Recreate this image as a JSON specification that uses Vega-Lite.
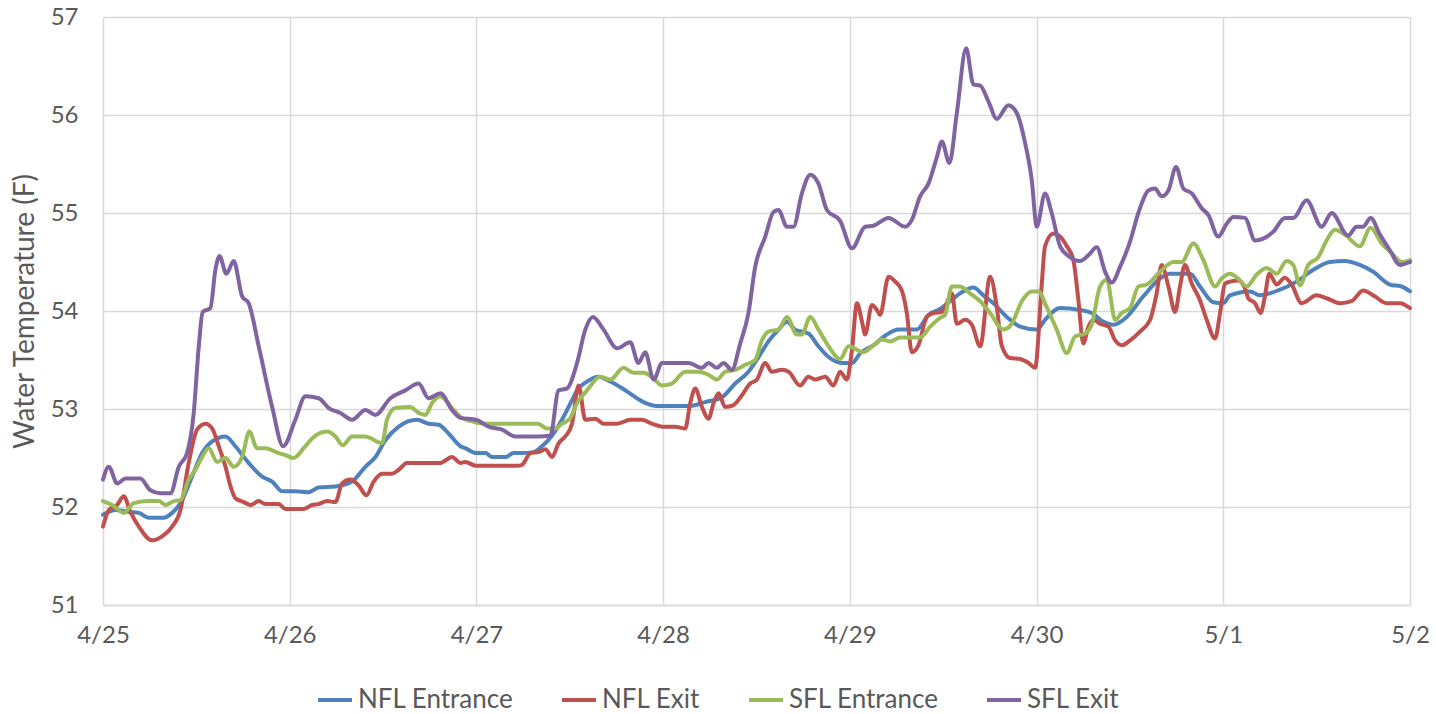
{
 "$schema": "https://vega.github.io/schema/vega-lite/v6.json",
 "width": 1307, "height": 588,
 "autosize": {"type": "none"},
 "padding": {"left": 103, "top": 17, "right": 26, "bottom": 109},
 "background": "white",
 "config": {"font": "Lato", "view": {"stroke": null}},
 "data": {"values": [
{"series":"NFL Entrance","day":0,"temp":51.92},{"series":"NFL Entrance","day":0.067,"temp":51.97},{"series":"NFL Entrance","day":0.138,"temp":51.95},{"series":"NFL Entrance","day":0.192,"temp":51.94},{"series":"NFL Entrance","day":0.245,"temp":51.89},{"series":"NFL Entrance","day":0.325,"temp":51.89},{"series":"NFL Entrance","day":0.37,"temp":51.94},{"series":"NFL Entrance","day":0.415,"temp":52.04},{"series":"NFL Entrance","day":0.477,"temp":52.31},{"series":"NFL Entrance","day":0.531,"temp":52.55},{"series":"NFL Entrance","day":0.585,"temp":52.67},{"series":"NFL Entrance","day":0.656,"temp":52.72},{"series":"NFL Entrance","day":0.709,"temp":52.62},{"series":"NFL Entrance","day":0.78,"temp":52.45},{"series":"NFL Entrance","day":0.852,"temp":52.31},{"series":"NFL Entrance","day":0.906,"temp":52.26},{"series":"NFL Entrance","day":0.96,"temp":52.16},{"series":"NFL Entrance","day":1.03,"temp":52.16},{"series":"NFL Entrance","day":1.1,"temp":52.15},{"series":"NFL Entrance","day":1.155,"temp":52.2},{"series":"NFL Entrance","day":1.245,"temp":52.21},{"series":"NFL Entrance","day":1.334,"temp":52.26},{"series":"NFL Entrance","day":1.405,"temp":52.41},{"series":"NFL Entrance","day":1.459,"temp":52.51},{"series":"NFL Entrance","day":1.512,"temp":52.68},{"series":"NFL Entrance","day":1.584,"temp":52.82},{"series":"NFL Entrance","day":1.682,"temp":52.89},{"series":"NFL Entrance","day":1.744,"temp":52.85},{"series":"NFL Entrance","day":1.798,"temp":52.84},{"series":"NFL Entrance","day":1.851,"temp":52.75},{"series":"NFL Entrance","day":1.914,"temp":52.62},{"series":"NFL Entrance","day":1.94,"temp":52.6},{"series":"NFL Entrance","day":1.998,"temp":52.55},{"series":"NFL Entrance","day":2.048,"temp":52.55},{"series":"NFL Entrance","day":2.083,"temp":52.51},{"series":"NFL Entrance","day":2.155,"temp":52.51},{"series":"NFL Entrance","day":2.199,"temp":52.55},{"series":"NFL Entrance","day":2.244,"temp":52.55},{"series":"NFL Entrance","day":2.306,"temp":52.56},{"series":"NFL Entrance","day":2.351,"temp":52.62},{"series":"NFL Entrance","day":2.405,"temp":52.73},{"series":"NFL Entrance","day":2.458,"temp":52.89},{"series":"NFL Entrance","day":2.512,"temp":53.09},{"series":"NFL Entrance","day":2.539,"temp":53.19},{"series":"NFL Entrance","day":2.592,"temp":53.28},{"series":"NFL Entrance","day":2.654,"temp":53.33},{"series":"NFL Entrance","day":2.717,"temp":53.28},{"series":"NFL Entrance","day":2.806,"temp":53.18},{"series":"NFL Entrance","day":2.895,"temp":53.07},{"series":"NFL Entrance","day":2.967,"temp":53.03},{"series":"NFL Entrance","day":3.038,"temp":53.03},{"series":"NFL Entrance","day":3.136,"temp":53.03},{"series":"NFL Entrance","day":3.225,"temp":53.07},{"series":"NFL Entrance","day":3.315,"temp":53.12},{"series":"NFL Entrance","day":3.386,"temp":53.26},{"series":"NFL Entrance","day":3.457,"temp":53.38},{"series":"NFL Entrance","day":3.511,"temp":53.53},{"series":"NFL Entrance","day":3.564,"temp":53.69},{"series":"NFL Entrance","day":3.618,"temp":53.81},{"series":"NFL Entrance","day":3.663,"temp":53.89},{"series":"NFL Entrance","day":3.707,"temp":53.81},{"series":"NFL Entrance","day":3.778,"temp":53.77},{"series":"NFL Entrance","day":3.832,"temp":53.64},{"series":"NFL Entrance","day":3.886,"temp":53.53},{"series":"NFL Entrance","day":3.957,"temp":53.47},{"series":"NFL Entrance","day":4.011,"temp":53.47},{"series":"NFL Entrance","day":4.056,"temp":53.57},{"series":"NFL Entrance","day":4.126,"temp":53.65},{"series":"NFL Entrance","day":4.198,"temp":53.76},{"series":"NFL Entrance","day":4.26,"temp":53.81},{"series":"NFL Entrance","day":4.358,"temp":53.81},{"series":"NFL Entrance","day":4.421,"temp":53.96},{"series":"NFL Entrance","day":4.483,"temp":54.02},{"series":"NFL Entrance","day":4.537,"temp":54.1},{"series":"NFL Entrance","day":4.59,"temp":54.18},{"series":"NFL Entrance","day":4.662,"temp":54.24},{"series":"NFL Entrance","day":4.715,"temp":54.16},{"series":"NFL Entrance","day":4.769,"temp":54.08},{"series":"NFL Entrance","day":4.84,"temp":53.94},{"series":"NFL Entrance","day":4.912,"temp":53.84},{"series":"NFL Entrance","day":5.001,"temp":53.81},{"series":"NFL Entrance","day":5.045,"temp":53.91},{"series":"NFL Entrance","day":5.126,"temp":54.03},{"series":"NFL Entrance","day":5.233,"temp":54.01},{"series":"NFL Entrance","day":5.296,"temp":53.98},{"series":"NFL Entrance","day":5.358,"temp":53.89},{"series":"NFL Entrance","day":5.411,"temp":53.86},{"series":"NFL Entrance","day":5.483,"temp":53.94},{"series":"NFL Entrance","day":5.572,"temp":54.15},{"series":"NFL Entrance","day":5.661,"temp":54.33},{"series":"NFL Entrance","day":5.715,"temp":54.38},{"series":"NFL Entrance","day":5.822,"temp":54.38},{"series":"NFL Entrance","day":5.875,"temp":54.25},{"series":"NFL Entrance","day":5.947,"temp":54.09},{"series":"NFL Entrance","day":6.0,"temp":54.08},{"series":"NFL Entrance","day":6.036,"temp":54.16},{"series":"NFL Entrance","day":6.143,"temp":54.2},{"series":"NFL Entrance","day":6.196,"temp":54.16},{"series":"NFL Entrance","day":6.294,"temp":54.21},{"series":"NFL Entrance","day":6.393,"temp":54.3},{"series":"NFL Entrance","day":6.482,"temp":54.42},{"series":"NFL Entrance","day":6.571,"temp":54.5},{"series":"NFL Entrance","day":6.651,"temp":54.51},{"series":"NFL Entrance","day":6.731,"temp":54.47},{"series":"NFL Entrance","day":6.803,"temp":54.4},{"series":"NFL Entrance","day":6.892,"temp":54.27},{"series":"NFL Entrance","day":6.955,"temp":54.25},{"series":"NFL Entrance","day":7.0,"temp":54.2},
{"series":"NFL Exit","day":0,"temp":51.8},{"series":"NFL Exit","day":0.031,"temp":51.97},{"series":"NFL Exit","day":0.075,"temp":52.02},{"series":"NFL Exit","day":0.111,"temp":52.11},{"series":"NFL Exit","day":0.147,"temp":51.95},{"series":"NFL Exit","day":0.192,"temp":51.8},{"series":"NFL Exit","day":0.263,"temp":51.66},{"series":"NFL Exit","day":0.317,"temp":51.7},{"series":"NFL Exit","day":0.37,"temp":51.8},{"series":"NFL Exit","day":0.415,"temp":51.97},{"series":"NFL Exit","day":0.459,"temp":52.45},{"series":"NFL Exit","day":0.504,"temp":52.79},{"series":"NFL Exit","day":0.549,"temp":52.85},{"series":"NFL Exit","day":0.585,"temp":52.8},{"series":"NFL Exit","day":0.62,"temp":52.62},{"series":"NFL Exit","day":0.656,"temp":52.41},{"series":"NFL Exit","day":0.683,"temp":52.21},{"series":"NFL Exit","day":0.709,"temp":52.09},{"series":"NFL Exit","day":0.754,"temp":52.05},{"series":"NFL Exit","day":0.79,"temp":52.02},{"series":"NFL Exit","day":0.834,"temp":52.06},{"series":"NFL Exit","day":0.87,"temp":52.03},{"series":"NFL Exit","day":0.941,"temp":52.03},{"series":"NFL Exit","day":0.977,"temp":51.98},{"series":"NFL Exit","day":1.075,"temp":51.98},{"series":"NFL Exit","day":1.12,"temp":52.02},{"series":"NFL Exit","day":1.155,"temp":52.03},{"series":"NFL Exit","day":1.2,"temp":52.06},{"series":"NFL Exit","day":1.245,"temp":52.05},{"series":"NFL Exit","day":1.28,"temp":52.24},{"series":"NFL Exit","day":1.325,"temp":52.28},{"series":"NFL Exit","day":1.369,"temp":52.22},{"series":"NFL Exit","day":1.411,"temp":52.12},{"series":"NFL Exit","day":1.45,"temp":52.26},{"series":"NFL Exit","day":1.495,"temp":52.34},{"series":"NFL Exit","day":1.548,"temp":52.34},{"series":"NFL Exit","day":1.584,"temp":52.38},{"series":"NFL Exit","day":1.628,"temp":52.45},{"series":"NFL Exit","day":1.727,"temp":52.45},{"series":"NFL Exit","day":1.807,"temp":52.45},{"series":"NFL Exit","day":1.869,"temp":52.51},{"series":"NFL Exit","day":1.914,"temp":52.45},{"series":"NFL Exit","day":1.94,"temp":52.46},{"series":"NFL Exit","day":1.998,"temp":52.42},{"series":"NFL Exit","day":2.101,"temp":52.42},{"series":"NFL Exit","day":2.217,"temp":52.42},{"series":"NFL Exit","day":2.244,"temp":52.43},{"series":"NFL Exit","day":2.289,"temp":52.55},{"series":"NFL Exit","day":2.333,"temp":52.56},{"series":"NFL Exit","day":2.369,"temp":52.59},{"series":"NFL Exit","day":2.405,"temp":52.51},{"series":"NFL Exit","day":2.44,"temp":52.65},{"series":"NFL Exit","day":2.476,"temp":52.72},{"series":"NFL Exit","day":2.512,"temp":52.85},{"series":"NFL Exit","day":2.547,"temp":53.24},{"series":"NFL Exit","day":2.583,"temp":52.89},{"series":"NFL Exit","day":2.637,"temp":52.9},{"series":"NFL Exit","day":2.681,"temp":52.85},{"series":"NFL Exit","day":2.753,"temp":52.85},{"series":"NFL Exit","day":2.824,"temp":52.89},{"series":"NFL Exit","day":2.886,"temp":52.89},{"series":"NFL Exit","day":2.94,"temp":52.85},{"series":"NFL Exit","day":2.994,"temp":52.82},{"series":"NFL Exit","day":3.065,"temp":52.82},{"series":"NFL Exit","day":3.118,"temp":52.8},{"series":"NFL Exit","day":3.145,"temp":53.06},{"series":"NFL Exit","day":3.172,"temp":53.21},{"series":"NFL Exit","day":3.208,"temp":53.02},{"series":"NFL Exit","day":3.243,"temp":52.9},{"series":"NFL Exit","day":3.27,"temp":53.06},{"series":"NFL Exit","day":3.297,"temp":53.16},{"series":"NFL Exit","day":3.332,"temp":53.02},{"series":"NFL Exit","day":3.377,"temp":53.04},{"series":"NFL Exit","day":3.422,"temp":53.14},{"series":"NFL Exit","day":3.466,"temp":53.26},{"series":"NFL Exit","day":3.502,"temp":53.3},{"series":"NFL Exit","day":3.547,"temp":53.47},{"series":"NFL Exit","day":3.582,"temp":53.38},{"series":"NFL Exit","day":3.636,"temp":53.4},{"series":"NFL Exit","day":3.672,"temp":53.38},{"series":"NFL Exit","day":3.734,"temp":53.24},{"series":"NFL Exit","day":3.778,"temp":53.33},{"series":"NFL Exit","day":3.814,"temp":53.3},{"series":"NFL Exit","day":3.868,"temp":53.33},{"series":"NFL Exit","day":3.912,"temp":53.24},{"series":"NFL Exit","day":3.948,"temp":53.38},{"series":"NFL Exit","day":3.984,"temp":53.3},{"series":"NFL Exit","day":4.011,"temp":53.6},{"series":"NFL Exit","day":4.038,"temp":54.08},{"series":"NFL Exit","day":4.065,"temp":53.89},{"series":"NFL Exit","day":4.082,"temp":53.76},{"series":"NFL Exit","day":4.118,"temp":54.06},{"series":"NFL Exit","day":4.145,"temp":54.01},{"series":"NFL Exit","day":4.162,"temp":53.96},{"series":"NFL Exit","day":4.207,"temp":54.35},{"series":"NFL Exit","day":4.243,"temp":54.3},{"series":"NFL Exit","day":4.278,"temp":54.21},{"series":"NFL Exit","day":4.305,"temp":53.98},{"series":"NFL Exit","day":4.332,"temp":53.58},{"series":"NFL Exit","day":4.367,"temp":53.65},{"series":"NFL Exit","day":4.412,"temp":53.94},{"series":"NFL Exit","day":4.448,"temp":53.98},{"series":"NFL Exit","day":4.493,"temp":53.99},{"series":"NFL Exit","day":4.519,"temp":54.08},{"series":"NFL Exit","day":4.546,"temp":54.18},{"series":"NFL Exit","day":4.573,"temp":53.87},{"series":"NFL Exit","day":4.617,"temp":53.91},{"series":"NFL Exit","day":4.653,"temp":53.86},{"series":"NFL Exit","day":4.698,"temp":53.64},{"series":"NFL Exit","day":4.751,"temp":54.35},{"series":"NFL Exit","day":4.787,"temp":54.04},{"series":"NFL Exit","day":4.813,"temp":53.65},{"series":"NFL Exit","day":4.858,"temp":53.52},{"series":"NFL Exit","day":4.912,"temp":53.51},{"series":"NFL Exit","day":4.957,"temp":53.47},{"series":"NFL Exit","day":4.992,"temp":53.42},{"series":"NFL Exit","day":5.028,"temp":54.28},{"series":"NFL Exit","day":5.045,"temp":54.66},{"series":"NFL Exit","day":5.09,"temp":54.79},{"series":"NFL Exit","day":5.126,"temp":54.76},{"series":"NFL Exit","day":5.162,"temp":54.66},{"series":"NFL Exit","day":5.197,"temp":54.52},{"series":"NFL Exit","day":5.224,"temp":54.11},{"series":"NFL Exit","day":5.25,"temp":53.67},{"series":"NFL Exit","day":5.278,"temp":53.84},{"series":"NFL Exit","day":5.304,"temp":53.91},{"series":"NFL Exit","day":5.34,"temp":53.87},{"series":"NFL Exit","day":5.385,"temp":53.84},{"series":"NFL Exit","day":5.421,"temp":53.7},{"series":"NFL Exit","day":5.456,"temp":53.65},{"series":"NFL Exit","day":5.501,"temp":53.7},{"series":"NFL Exit","day":5.554,"temp":53.79},{"series":"NFL Exit","day":5.608,"temp":53.91},{"series":"NFL Exit","day":5.643,"temp":54.18},{"series":"NFL Exit","day":5.67,"temp":54.47},{"series":"NFL Exit","day":5.706,"temp":54.25},{"series":"NFL Exit","day":5.742,"temp":53.99},{"series":"NFL Exit","day":5.768,"temp":54.25},{"series":"NFL Exit","day":5.795,"temp":54.47},{"series":"NFL Exit","day":5.831,"temp":54.28},{"series":"NFL Exit","day":5.875,"temp":54.11},{"series":"NFL Exit","day":5.911,"temp":53.91},{"series":"NFL Exit","day":5.956,"temp":53.72},{"series":"NFL Exit","day":5.982,"temp":53.97},{"series":"NFL Exit","day":6.009,"temp":54.28},{"series":"NFL Exit","day":6.036,"temp":54.3},{"series":"NFL Exit","day":6.08,"temp":54.31},{"series":"NFL Exit","day":6.116,"temp":54.23},{"series":"NFL Exit","day":6.134,"temp":54.13},{"series":"NFL Exit","day":6.17,"temp":54.08},{"series":"NFL Exit","day":6.2,"temp":53.98},{"series":"NFL Exit","day":6.223,"temp":54.15},{"series":"NFL Exit","day":6.246,"temp":54.38},{"series":"NFL Exit","day":6.286,"temp":54.27},{"series":"NFL Exit","day":6.33,"temp":54.34},{"series":"NFL Exit","day":6.366,"temp":54.27},{"series":"NFL Exit","day":6.42,"temp":54.08},{"series":"NFL Exit","day":6.5,"temp":54.16},{"series":"NFL Exit","day":6.553,"temp":54.13},{"series":"NFL Exit","day":6.625,"temp":54.08},{"series":"NFL Exit","day":6.687,"temp":54.1},{"series":"NFL Exit","day":6.749,"temp":54.21},{"series":"NFL Exit","day":6.811,"temp":54.15},{"series":"NFL Exit","day":6.874,"temp":54.08},{"series":"NFL Exit","day":6.946,"temp":54.08},{"series":"NFL Exit","day":7.0,"temp":54.03},
{"series":"SFL Entrance","day":0,"temp":52.06},{"series":"SFL Entrance","day":0.049,"temp":52.02},{"series":"SFL Entrance","day":0.111,"temp":51.94},{"series":"SFL Entrance","day":0.165,"temp":52.04},{"series":"SFL Entrance","day":0.245,"temp":52.06},{"series":"SFL Entrance","day":0.299,"temp":52.06},{"series":"SFL Entrance","day":0.335,"temp":52.02},{"series":"SFL Entrance","day":0.379,"temp":52.06},{"series":"SFL Entrance","day":0.415,"temp":52.07},{"series":"SFL Entrance","day":0.459,"temp":52.28},{"series":"SFL Entrance","day":0.495,"temp":52.38},{"series":"SFL Entrance","day":0.531,"temp":52.51},{"series":"SFL Entrance","day":0.566,"temp":52.6},{"series":"SFL Entrance","day":0.611,"temp":52.46},{"series":"SFL Entrance","day":0.656,"temp":52.5},{"series":"SFL Entrance","day":0.7,"temp":52.41},{"series":"SFL Entrance","day":0.745,"temp":52.51},{"series":"SFL Entrance","day":0.784,"temp":52.77},{"series":"SFL Entrance","day":0.825,"temp":52.6},{"series":"SFL Entrance","day":0.87,"temp":52.6},{"series":"SFL Entrance","day":0.941,"temp":52.55},{"series":"SFL Entrance","day":0.977,"temp":52.53},{"series":"SFL Entrance","day":1.021,"temp":52.5},{"series":"SFL Entrance","day":1.075,"temp":52.6},{"series":"SFL Entrance","day":1.12,"temp":52.7},{"series":"SFL Entrance","day":1.2,"temp":52.77},{"series":"SFL Entrance","day":1.245,"temp":52.72},{"series":"SFL Entrance","day":1.284,"temp":52.63},{"series":"SFL Entrance","day":1.334,"temp":52.72},{"series":"SFL Entrance","day":1.405,"temp":52.72},{"series":"SFL Entrance","day":1.495,"temp":52.65},{"series":"SFL Entrance","day":1.521,"temp":52.89},{"series":"SFL Entrance","day":1.566,"temp":53.01},{"series":"SFL Entrance","day":1.646,"temp":53.02},{"series":"SFL Entrance","day":1.69,"temp":52.96},{"series":"SFL Entrance","day":1.727,"temp":52.94},{"series":"SFL Entrance","day":1.762,"temp":53.06},{"series":"SFL Entrance","day":1.807,"temp":53.13},{"series":"SFL Entrance","day":1.869,"temp":53.01},{"series":"SFL Entrance","day":1.914,"temp":52.92},{"series":"SFL Entrance","day":1.985,"temp":52.87},{"series":"SFL Entrance","day":2.048,"temp":52.85},{"series":"SFL Entrance","day":2.33,"temp":52.85},{"series":"SFL Entrance","day":2.378,"temp":52.8},{"series":"SFL Entrance","day":2.42,"temp":52.8},{"series":"SFL Entrance","day":2.458,"temp":52.85},{"series":"SFL Entrance","day":2.5,"temp":52.9},{"series":"SFL Entrance","day":2.539,"temp":53.06},{"series":"SFL Entrance","day":2.592,"temp":53.19},{"series":"SFL Entrance","day":2.663,"temp":53.33},{"series":"SFL Entrance","day":2.717,"temp":53.3},{"series":"SFL Entrance","day":2.788,"temp":53.42},{"series":"SFL Entrance","day":2.842,"temp":53.37},{"series":"SFL Entrance","day":2.895,"temp":53.37},{"series":"SFL Entrance","day":2.949,"temp":53.31},{"series":"SFL Entrance","day":2.994,"temp":53.24},{"series":"SFL Entrance","day":3.047,"temp":53.26},{"series":"SFL Entrance","day":3.118,"temp":53.38},{"series":"SFL Entrance","day":3.19,"temp":53.38},{"series":"SFL Entrance","day":3.243,"temp":53.35},{"series":"SFL Entrance","day":3.288,"temp":53.3},{"series":"SFL Entrance","day":3.332,"temp":53.38},{"series":"SFL Entrance","day":3.386,"temp":53.4},{"series":"SFL Entrance","day":3.439,"temp":53.45},{"series":"SFL Entrance","day":3.493,"temp":53.5},{"series":"SFL Entrance","day":3.529,"temp":53.7},{"series":"SFL Entrance","day":3.564,"temp":53.79},{"series":"SFL Entrance","day":3.618,"temp":53.81},{"series":"SFL Entrance","day":3.663,"temp":53.94},{"series":"SFL Entrance","day":3.716,"temp":53.76},{"series":"SFL Entrance","day":3.743,"temp":53.76},{"series":"SFL Entrance","day":3.788,"temp":53.94},{"series":"SFL Entrance","day":3.832,"temp":53.81},{"series":"SFL Entrance","day":3.886,"temp":53.64},{"series":"SFL Entrance","day":3.948,"temp":53.51},{"series":"SFL Entrance","day":3.993,"temp":53.64},{"series":"SFL Entrance","day":4.073,"temp":53.58},{"series":"SFL Entrance","day":4.126,"temp":53.65},{"series":"SFL Entrance","day":4.171,"temp":53.71},{"series":"SFL Entrance","day":4.216,"temp":53.69},{"series":"SFL Entrance","day":4.269,"temp":53.73},{"series":"SFL Entrance","day":4.376,"temp":53.73},{"series":"SFL Entrance","day":4.43,"temp":53.84},{"series":"SFL Entrance","day":4.483,"temp":53.93},{"series":"SFL Entrance","day":4.51,"temp":53.96},{"series":"SFL Entrance","day":4.546,"temp":54.25},{"series":"SFL Entrance","day":4.59,"temp":54.25},{"series":"SFL Entrance","day":4.644,"temp":54.18},{"series":"SFL Entrance","day":4.698,"temp":54.1},{"series":"SFL Entrance","day":4.751,"temp":53.98},{"series":"SFL Entrance","day":4.822,"temp":53.81},{"series":"SFL Entrance","day":4.867,"temp":53.87},{"series":"SFL Entrance","day":4.921,"temp":54.1},{"series":"SFL Entrance","day":4.974,"temp":54.2},{"series":"SFL Entrance","day":5.01,"temp":54.2},{"series":"SFL Entrance","day":5.054,"temp":54.04},{"series":"SFL Entrance","day":5.108,"temp":53.81},{"series":"SFL Entrance","day":5.162,"temp":53.57},{"series":"SFL Entrance","day":5.206,"temp":53.74},{"series":"SFL Entrance","day":5.26,"temp":53.77},{"series":"SFL Entrance","day":5.296,"temp":53.87},{"series":"SFL Entrance","day":5.34,"temp":54.25},{"series":"SFL Entrance","day":5.376,"temp":54.32},{"series":"SFL Entrance","day":5.421,"temp":53.91},{"series":"SFL Entrance","day":5.456,"temp":53.98},{"series":"SFL Entrance","day":5.501,"temp":54.03},{"series":"SFL Entrance","day":5.545,"temp":54.25},{"series":"SFL Entrance","day":5.59,"temp":54.27},{"series":"SFL Entrance","day":5.661,"temp":54.4},{"series":"SFL Entrance","day":5.733,"temp":54.5},{"series":"SFL Entrance","day":5.777,"temp":54.5},{"series":"SFL Entrance","day":5.84,"temp":54.69},{"series":"SFL Entrance","day":5.893,"temp":54.52},{"series":"SFL Entrance","day":5.956,"temp":54.25},{"series":"SFL Entrance","day":5.991,"temp":54.33},{"series":"SFL Entrance","day":6.036,"temp":54.38},{"series":"SFL Entrance","day":6.08,"temp":54.33},{"series":"SFL Entrance","day":6.125,"temp":54.25},{"series":"SFL Entrance","day":6.178,"temp":54.37},{"series":"SFL Entrance","day":6.232,"temp":54.44},{"series":"SFL Entrance","day":6.286,"temp":54.38},{"series":"SFL Entrance","day":6.339,"temp":54.51},{"series":"SFL Entrance","day":6.375,"temp":54.47},{"series":"SFL Entrance","day":6.411,"temp":54.26},{"series":"SFL Entrance","day":6.455,"temp":54.47},{"series":"SFL Entrance","day":6.509,"temp":54.55},{"series":"SFL Entrance","day":6.553,"temp":54.72},{"series":"SFL Entrance","day":6.598,"temp":54.83},{"series":"SFL Entrance","day":6.651,"temp":54.78},{"series":"SFL Entrance","day":6.731,"temp":54.66},{"series":"SFL Entrance","day":6.789,"temp":54.85},{"series":"SFL Entrance","day":6.848,"temp":54.69},{"series":"SFL Entrance","day":6.902,"temp":54.59},{"series":"SFL Entrance","day":6.955,"temp":54.5},{"series":"SFL Entrance","day":7.0,"temp":54.52},
{"series":"SFL Exit","day":0,"temp":52.28},{"series":"SFL Exit","day":0.031,"temp":52.41},{"series":"SFL Exit","day":0.076,"temp":52.24},{"series":"SFL Exit","day":0.12,"temp":52.29},{"series":"SFL Exit","day":0.2,"temp":52.29},{"series":"SFL Exit","day":0.254,"temp":52.17},{"series":"SFL Exit","day":0.308,"temp":52.14},{"series":"SFL Exit","day":0.361,"temp":52.14},{"series":"SFL Exit","day":0.406,"temp":52.41},{"series":"SFL Exit","day":0.45,"temp":52.55},{"series":"SFL Exit","day":0.486,"temp":52.96},{"series":"SFL Exit","day":0.513,"temp":53.64},{"series":"SFL Exit","day":0.534,"temp":53.99},{"series":"SFL Exit","day":0.575,"temp":54.03},{"series":"SFL Exit","day":0.602,"temp":54.42},{"series":"SFL Exit","day":0.624,"temp":54.56},{"series":"SFL Exit","day":0.661,"temp":54.38},{"series":"SFL Exit","day":0.7,"temp":54.51},{"series":"SFL Exit","day":0.745,"temp":54.15},{"series":"SFL Exit","day":0.78,"temp":54.08},{"series":"SFL Exit","day":0.834,"temp":53.64},{"series":"SFL Exit","day":0.906,"temp":53.02},{"series":"SFL Exit","day":0.965,"temp":52.62},{"series":"SFL Exit","day":1.03,"temp":52.89},{"series":"SFL Exit","day":1.084,"temp":53.13},{"series":"SFL Exit","day":1.155,"temp":53.11},{"series":"SFL Exit","day":1.209,"temp":53.01},{"series":"SFL Exit","day":1.271,"temp":52.96},{"series":"SFL Exit","day":1.334,"temp":52.89},{"series":"SFL Exit","day":1.405,"temp":52.99},{"series":"SFL Exit","day":1.459,"temp":52.94},{"series":"SFL Exit","day":1.539,"temp":53.11},{"series":"SFL Exit","day":1.619,"temp":53.19},{"series":"SFL Exit","day":1.69,"temp":53.26},{"series":"SFL Exit","day":1.744,"temp":53.11},{"series":"SFL Exit","day":1.807,"temp":53.16},{"series":"SFL Exit","day":1.869,"temp":52.99},{"series":"SFL Exit","day":1.914,"temp":52.91},{"series":"SFL Exit","day":1.998,"temp":52.89},{"series":"SFL Exit","day":2.065,"temp":52.82},{"series":"SFL Exit","day":2.137,"temp":52.79},{"series":"SFL Exit","day":2.208,"temp":52.72},{"series":"SFL Exit","day":2.33,"temp":52.72},{"series":"SFL Exit","day":2.396,"temp":52.73},{"series":"SFL Exit","day":2.44,"temp":53.19},{"series":"SFL Exit","day":2.485,"temp":53.21},{"series":"SFL Exit","day":2.539,"temp":53.47},{"series":"SFL Exit","day":2.583,"temp":53.81},{"series":"SFL Exit","day":2.624,"temp":53.94},{"series":"SFL Exit","day":2.681,"temp":53.81},{"series":"SFL Exit","day":2.753,"temp":53.62},{"series":"SFL Exit","day":2.824,"temp":53.68},{"series":"SFL Exit","day":2.868,"temp":53.47},{"series":"SFL Exit","day":2.904,"temp":53.58},{"series":"SFL Exit","day":2.949,"temp":53.3},{"series":"SFL Exit","day":2.994,"temp":53.47},{"series":"SFL Exit","day":3.136,"temp":53.47},{"series":"SFL Exit","day":3.208,"temp":53.42},{"series":"SFL Exit","day":3.243,"temp":53.47},{"series":"SFL Exit","day":3.288,"temp":53.42},{"series":"SFL Exit","day":3.323,"temp":53.47},{"series":"SFL Exit","day":3.368,"temp":53.4},{"series":"SFL Exit","day":3.413,"temp":53.67},{"series":"SFL Exit","day":3.457,"temp":53.98},{"series":"SFL Exit","day":3.493,"temp":54.45},{"series":"SFL Exit","day":3.547,"temp":54.76},{"series":"SFL Exit","day":3.591,"temp":55.01},{"series":"SFL Exit","day":3.618,"temp":55.03},{"series":"SFL Exit","day":3.663,"temp":54.86},{"series":"SFL Exit","day":3.698,"temp":54.86},{"series":"SFL Exit","day":3.743,"temp":55.2},{"series":"SFL Exit","day":3.788,"temp":55.39},{"series":"SFL Exit","day":3.832,"temp":55.3},{"series":"SFL Exit","day":3.877,"temp":55.03},{"series":"SFL Exit","day":3.948,"temp":54.92},{"series":"SFL Exit","day":4.011,"temp":54.64},{"series":"SFL Exit","day":4.082,"temp":54.86},{"series":"SFL Exit","day":4.126,"temp":54.87},{"series":"SFL Exit","day":4.207,"temp":54.95},{"series":"SFL Exit","day":4.296,"temp":54.86},{"series":"SFL Exit","day":4.332,"temp":54.93},{"series":"SFL Exit","day":4.376,"temp":55.17},{"series":"SFL Exit","day":4.421,"temp":55.3},{"series":"SFL Exit","day":4.466,"temp":55.57},{"series":"SFL Exit","day":4.493,"temp":55.73},{"series":"SFL Exit","day":4.533,"temp":55.51},{"series":"SFL Exit","day":4.573,"temp":56.02},{"series":"SFL Exit","day":4.623,"temp":56.68},{"series":"SFL Exit","day":4.662,"temp":56.31},{"series":"SFL Exit","day":4.698,"temp":56.3},{"series":"SFL Exit","day":4.742,"temp":56.14},{"series":"SFL Exit","day":4.787,"temp":55.96},{"series":"SFL Exit","day":4.849,"temp":56.1},{"series":"SFL Exit","day":4.894,"temp":56.02},{"series":"SFL Exit","day":4.939,"temp":55.71},{"series":"SFL Exit","day":4.974,"temp":55.34},{"series":"SFL Exit","day":5.001,"temp":54.86},{"series":"SFL Exit","day":5.045,"temp":55.2},{"series":"SFL Exit","day":5.081,"temp":55.0},{"series":"SFL Exit","day":5.126,"temp":54.66},{"series":"SFL Exit","day":5.179,"temp":54.55},{"series":"SFL Exit","day":5.233,"temp":54.51},{"series":"SFL Exit","day":5.278,"temp":54.57},{"series":"SFL Exit","day":5.322,"temp":54.65},{"series":"SFL Exit","day":5.367,"temp":54.4},{"series":"SFL Exit","day":5.403,"temp":54.29},{"series":"SFL Exit","day":5.447,"temp":54.45},{"series":"SFL Exit","day":5.501,"temp":54.71},{"series":"SFL Exit","day":5.545,"temp":55.0},{"series":"SFL Exit","day":5.599,"temp":55.23},{"series":"SFL Exit","day":5.634,"temp":55.25},{"series":"SFL Exit","day":5.67,"temp":55.17},{"series":"SFL Exit","day":5.706,"temp":55.23},{"series":"SFL Exit","day":5.747,"temp":55.47},{"series":"SFL Exit","day":5.786,"temp":55.25},{"series":"SFL Exit","day":5.831,"temp":55.2},{"series":"SFL Exit","day":5.884,"temp":55.05},{"series":"SFL Exit","day":5.92,"temp":54.98},{"series":"SFL Exit","day":5.973,"temp":54.76},{"series":"SFL Exit","day":6.018,"temp":54.89},{"series":"SFL Exit","day":6.054,"temp":54.96},{"series":"SFL Exit","day":6.116,"temp":54.95},{"series":"SFL Exit","day":6.17,"temp":54.72},{"series":"SFL Exit","day":6.268,"temp":54.81},{"series":"SFL Exit","day":6.33,"temp":54.95},{"series":"SFL Exit","day":6.375,"temp":54.95},{"series":"SFL Exit","day":6.446,"temp":55.13},{"series":"SFL Exit","day":6.527,"temp":54.86},{"series":"SFL Exit","day":6.58,"temp":55.0},{"series":"SFL Exit","day":6.669,"temp":54.77},{"series":"SFL Exit","day":6.714,"temp":54.86},{"series":"SFL Exit","day":6.749,"temp":54.86},{"series":"SFL Exit","day":6.789,"temp":54.95},{"series":"SFL Exit","day":6.839,"temp":54.78},{"series":"SFL Exit","day":6.892,"temp":54.62},{"series":"SFL Exit","day":6.946,"temp":54.47},{"series":"SFL Exit","day":7.0,"temp":54.5}
 ]},
 "mark": {"type": "line", "interpolate": "monotone", "strokeWidth": 4, "strokeCap": "round", "strokeJoin": "round"},
 "encoding": {
  "x": {"field": "day", "type": "quantitative",
   "scale": {"domain": [0, 7], "nice": false, "zero": false},
   "axis": {"values": [0, 1, 2, 3, 4, 5, 6, 7],
    "labelExpr": "['4/25','4/26','4/27','4/28','4/29','4/30','5/1','5/2'][datum.value]",
    "title": null, "grid": true, "gridColor": "#D9D9D9", "gridWidth": 1.5,
    "domainColor": "#D9D9D9", "domainWidth": 1.5, "ticks": false,
    "labelPadding": 18, "labelFontSize": 24, "labelColor": "#595959", "labelFont": "Lato", "labelFlush": false}},
  "y": {"field": "temp", "type": "quantitative",
   "scale": {"domain": [51, 57], "nice": false, "zero": false},
   "axis": {"values": [51, 52, 53, 54, 55, 56, 57], "title": "Water Temperature (F)",
    "titleFontSize": 28, "titleFontWeight": "normal", "titleColor": "#595959", "titleFont": "Lato", "titlePadding": 11,
    "grid": true, "gridColor": "#D9D9D9", "gridWidth": 1.5, "domain": false, "ticks": false,
    "labelPadding": 25, "labelFontSize": 24, "labelColor": "#595959", "labelFont": "Lato"}},
  "color": {"field": "series", "type": "nominal",
   "scale": {"domain": ["NFL Entrance", "NFL Exit", "SFL Entrance", "SFL Exit"], "range": ["#4F81BD", "#C0504D", "#9BBB59", "#8064A2"]},
   "legend": {"orient": "none", "direction": "horizontal", "legendX": 213, "legendY": 664, "title": null,
    "symbolType": "stroke", "symbolStrokeWidth": 4, "symbolSize": 1156, "labelFontSize": 26, "labelColor": "#595959", "labelFont": "Lato",
    "columnPadding": 40, "labelOffset": 4}}
 }
}
